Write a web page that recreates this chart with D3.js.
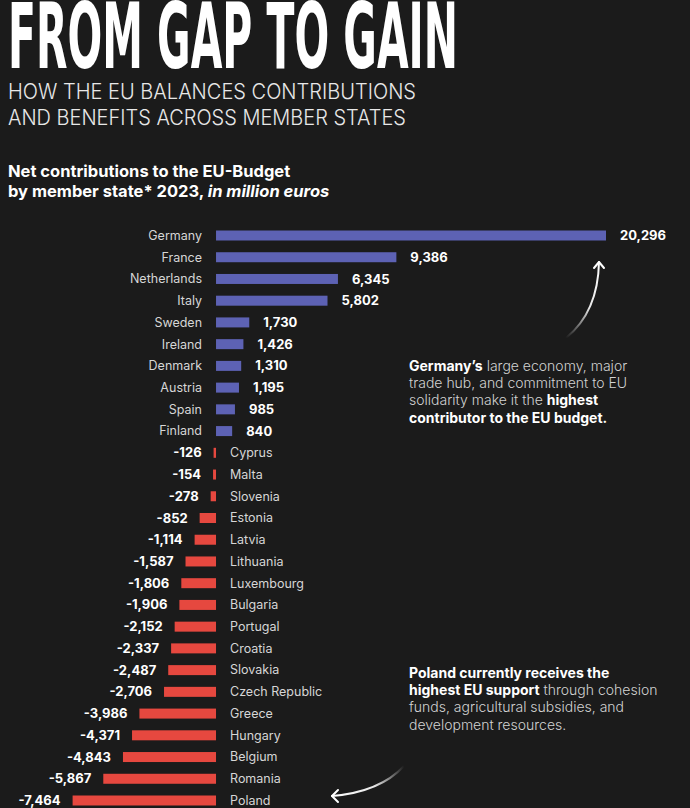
<!DOCTYPE html>
<html>
<head>
<meta charset="utf-8">
<script src="https://cdn.jsdelivr.net/npm/d3@7"></script>
<style>
  html, body { margin: 0; padding: 0; background: #1b1b1b; }
  svg { display: block; }
</style>
</head>
<body>
<div id="chart"></div>
<script>
'use strict';

var countries = ['Germany', 'France', 'Netherlands', 'Italy', 'Sweden', 'Ireland', 'Denmark',
  'Austria', 'Spain', 'Finland', 'Cyprus', 'Malta', 'Slovenia', 'Estonia', 'Latvia',
  'Lithuania', 'Luxembourg', 'Bulgaria', 'Portugal', 'Croatia', 'Slovakia',
  'Czech Republic', 'Greece', 'Hungary', 'Belgium', 'Romania', 'Poland'];

var netValues = [20296, 9386, 6345, 5802, 1730, 1426, 1310, 1195, 985, 840, -126, -154,
  -278, -852, -1114, -1587, -1806, -1906, -2152, -2337, -2487, -2706, -3986, -4371,
  -4843, -5867, -7464];

var subtitleLines = ['HOW THE EU BALANCES CONTRIBUTIONS', 'AND BENEFITS ACROSS MEMBER STATES'];
var subtitleWidths = [408, 398];

var germanyNote = [
  [['Germany\u2019s', true], [' large economy, major', false]],
  [['trade hub, and commitment to EU', false]],
  [['solidarity make it the ', false], ['highest', true]],
  [['contributor to the EU budget.', true]]
];

var polandNote = [
  [['Poland currently receives the', true]],
  [['highest EU support', true], [' through cohesion', false]],
  [['funds, agricultural subsidies, and', false]],
  [['development resources.', false]]
];

var W = 690, H = 808;
var sans = 'Inter, "Noto Sans", "DejaVu Sans", sans-serif';

var svg = d3.select('#chart').append('svg')
  .attr('width', W)
  .attr('height', H);

svg.append('rect')
  .attr('width', W)
  .attr('height', H)
  .attr('fill', '#1b1b1b');

// title
svg.append('text')
  .attr('x', 8)
  .attr('y', 68)
  .attr('textLength', 450)
  .attr('lengthAdjust', 'spacingAndGlyphs')
  .style('font-family', '"Liberation Sans Narrow", "DejaVu Sans Condensed", sans-serif')
  .style('font-weight', 700)
  .style('font-size', '90px')
  .attr('fill', '#ffffff')
  .text('FROM GAP TO GAIN');

svg.selectAll('.subtitle')
  .data(subtitleLines)
  .enter()
  .append('text')
  .attr('class', 'subtitle')
  .attr('x', 8)
  .attr('y', function (d, i) { return 99 + i * 26; })
  .attr('textLength', function (d, i) { return subtitleWidths[i]; })
  .attr('lengthAdjust', 'spacingAndGlyphs')
  .style('font-family', sans)
  .style('font-weight', 300)
  .style('font-size', '21px')
  .attr('fill', '#e8e8e8')
  .text(function (d) { return d; });

var head = svg.append('text')
  .attr('x', 8)
  .attr('y', 177)
  .style('font-family', sans)
  .style('font-weight', 700)
  .style('font-size', '16.5px')
  .attr('fill', '#ffffff');
head.append('tspan').text('Net contributions to the EU-Budget');
var head2 = head.append('tspan').attr('x', 8).attr('dy', 20);
head2.append('tspan').text('by member state* 2023, ');
head2.append('tspan').style('font-style', 'italic').text('in million euros');

// scales
var x = d3.scaleLinear()
  .domain(d3.extent(netValues))
  .range([72.6, 606]);

var y = d3.scalePoint()
  .domain(countries)
  .range([235.5, 800.5]);

var barH = 10;
var rows = countries.map(function (c, i) { return { name: c, value: netValues[i] }; });

svg.selectAll('.bar')
  .data(rows)
  .enter()
  .append('rect')
  .attr('class', 'bar')
  .attr('x', function (d) { return x(Math.min(0, d.value)); })
  .attr('y', function (d) { return y(d.name) - barH / 2; })
  .attr('width', function (d) { return Math.abs(x(d.value) - x(0)); })
  .attr('height', barH)
  .attr('fill', function (d) { return d.value > 0 ? '#5d62b4' : '#e6483f'; });

var fmt = d3.formatLocale({ decimal: '.', thousands: ',', grouping: [3], currency: ['', ''], minus: '-' }).format(',');

// country names
svg.selectAll('.name')
  .data(rows)
  .enter()
  .append('text')
  .attr('class', 'name')
  .attr('x', function (d) { return d.value > 0 ? x(0) - 14 : x(0) + 14; })
  .attr('y', function (d) { return y(d.name); })
  .attr('dy', '0.35em')
  .attr('text-anchor', function (d) { return d.value > 0 ? 'end' : 'start'; })
  .style('font-family', sans)
  .style('font-size', '12.5px')
  .attr('fill', '#d6d6d6')
  .text(function (d) { return d.name; });

// values
svg.selectAll('.val')
  .data(rows)
  .enter()
  .append('text')
  .attr('class', 'val')
  .attr('x', function (d) { return d.value > 0 ? x(d.value) + 14 : x(d.value) - 12; })
  .attr('y', function (d) { return y(d.name); })
  .attr('dy', '0.35em')
  .attr('text-anchor', function (d) { return d.value > 0 ? 'start' : 'end'; })
  .style('font-family', sans)
  .style('font-weight', 700)
  .style('font-size', '13px')
  .attr('fill', '#ffffff')
  .text(function (d) { return fmt(d.value); });

// notes
function note(lines, x0, y0) {
  var t = svg.append('text')
    .attr('x', x0)
    .attr('y', y0)
    .style('font-family', sans)
    .style('font-size', '14px');
  lines.forEach(function (line, i) {
    line.forEach(function (part, j) {
      var s = t.append('tspan')
        .attr('fill', part[1] ? '#ffffff' : '#d2d2d2')
        .style('font-weight', part[1] ? 700 : 300)
        .text(part[0]);
      if (j === 0) s.attr('x', x0).attr('dy', i === 0 ? 0 : 17.2);
    });
  });
}
note(germanyNote, 409, 371);
note(polandNote, 409, 678);

// arrows
var defs = svg.append('defs');
function arrow(id, from, ctrl, to, head1, head2) {
  var g = defs.append('linearGradient')
    .attr('id', id)
    .attr('gradientUnits', 'userSpaceOnUse')
    .attr('x1', from[0]).attr('y1', from[1])
    .attr('x2', to[0]).attr('y2', to[1]);
  g.append('stop').attr('offset', 0).attr('stop-color', '#fff').attr('stop-opacity', 0);
  g.append('stop').attr('offset', 0.45).attr('stop-color', '#fff').attr('stop-opacity', 0.9);
  g.append('stop').attr('offset', 1).attr('stop-color', '#fff').attr('stop-opacity', 1);
  var p = d3.path();
  p.moveTo(from[0], from[1]);
  p.quadraticCurveTo(ctrl[0], ctrl[1], to[0], to[1]);
  svg.append('path')
    .attr('d', p.toString())
    .attr('fill', 'none')
    .attr('stroke', 'url(#' + id + ')')
    .attr('stroke-width', 2)
    .attr('stroke-linecap', 'round');
  svg.append('path')
    .attr('d', d3.line()([head1, to, head2]))
    .attr('fill', 'none')
    .attr('stroke', '#fff')
    .attr('stroke-width', 2)
    .attr('stroke-linecap', 'round')
    .attr('stroke-linejoin', 'round');
}
arrow('gA', [566, 338], [598, 312], [599, 262], [594, 268], [604, 268]);
arrow('gB', [404, 766], [380, 792], [332, 796], [338, 790], [338, 802]);
</script>
</body>
</html>
